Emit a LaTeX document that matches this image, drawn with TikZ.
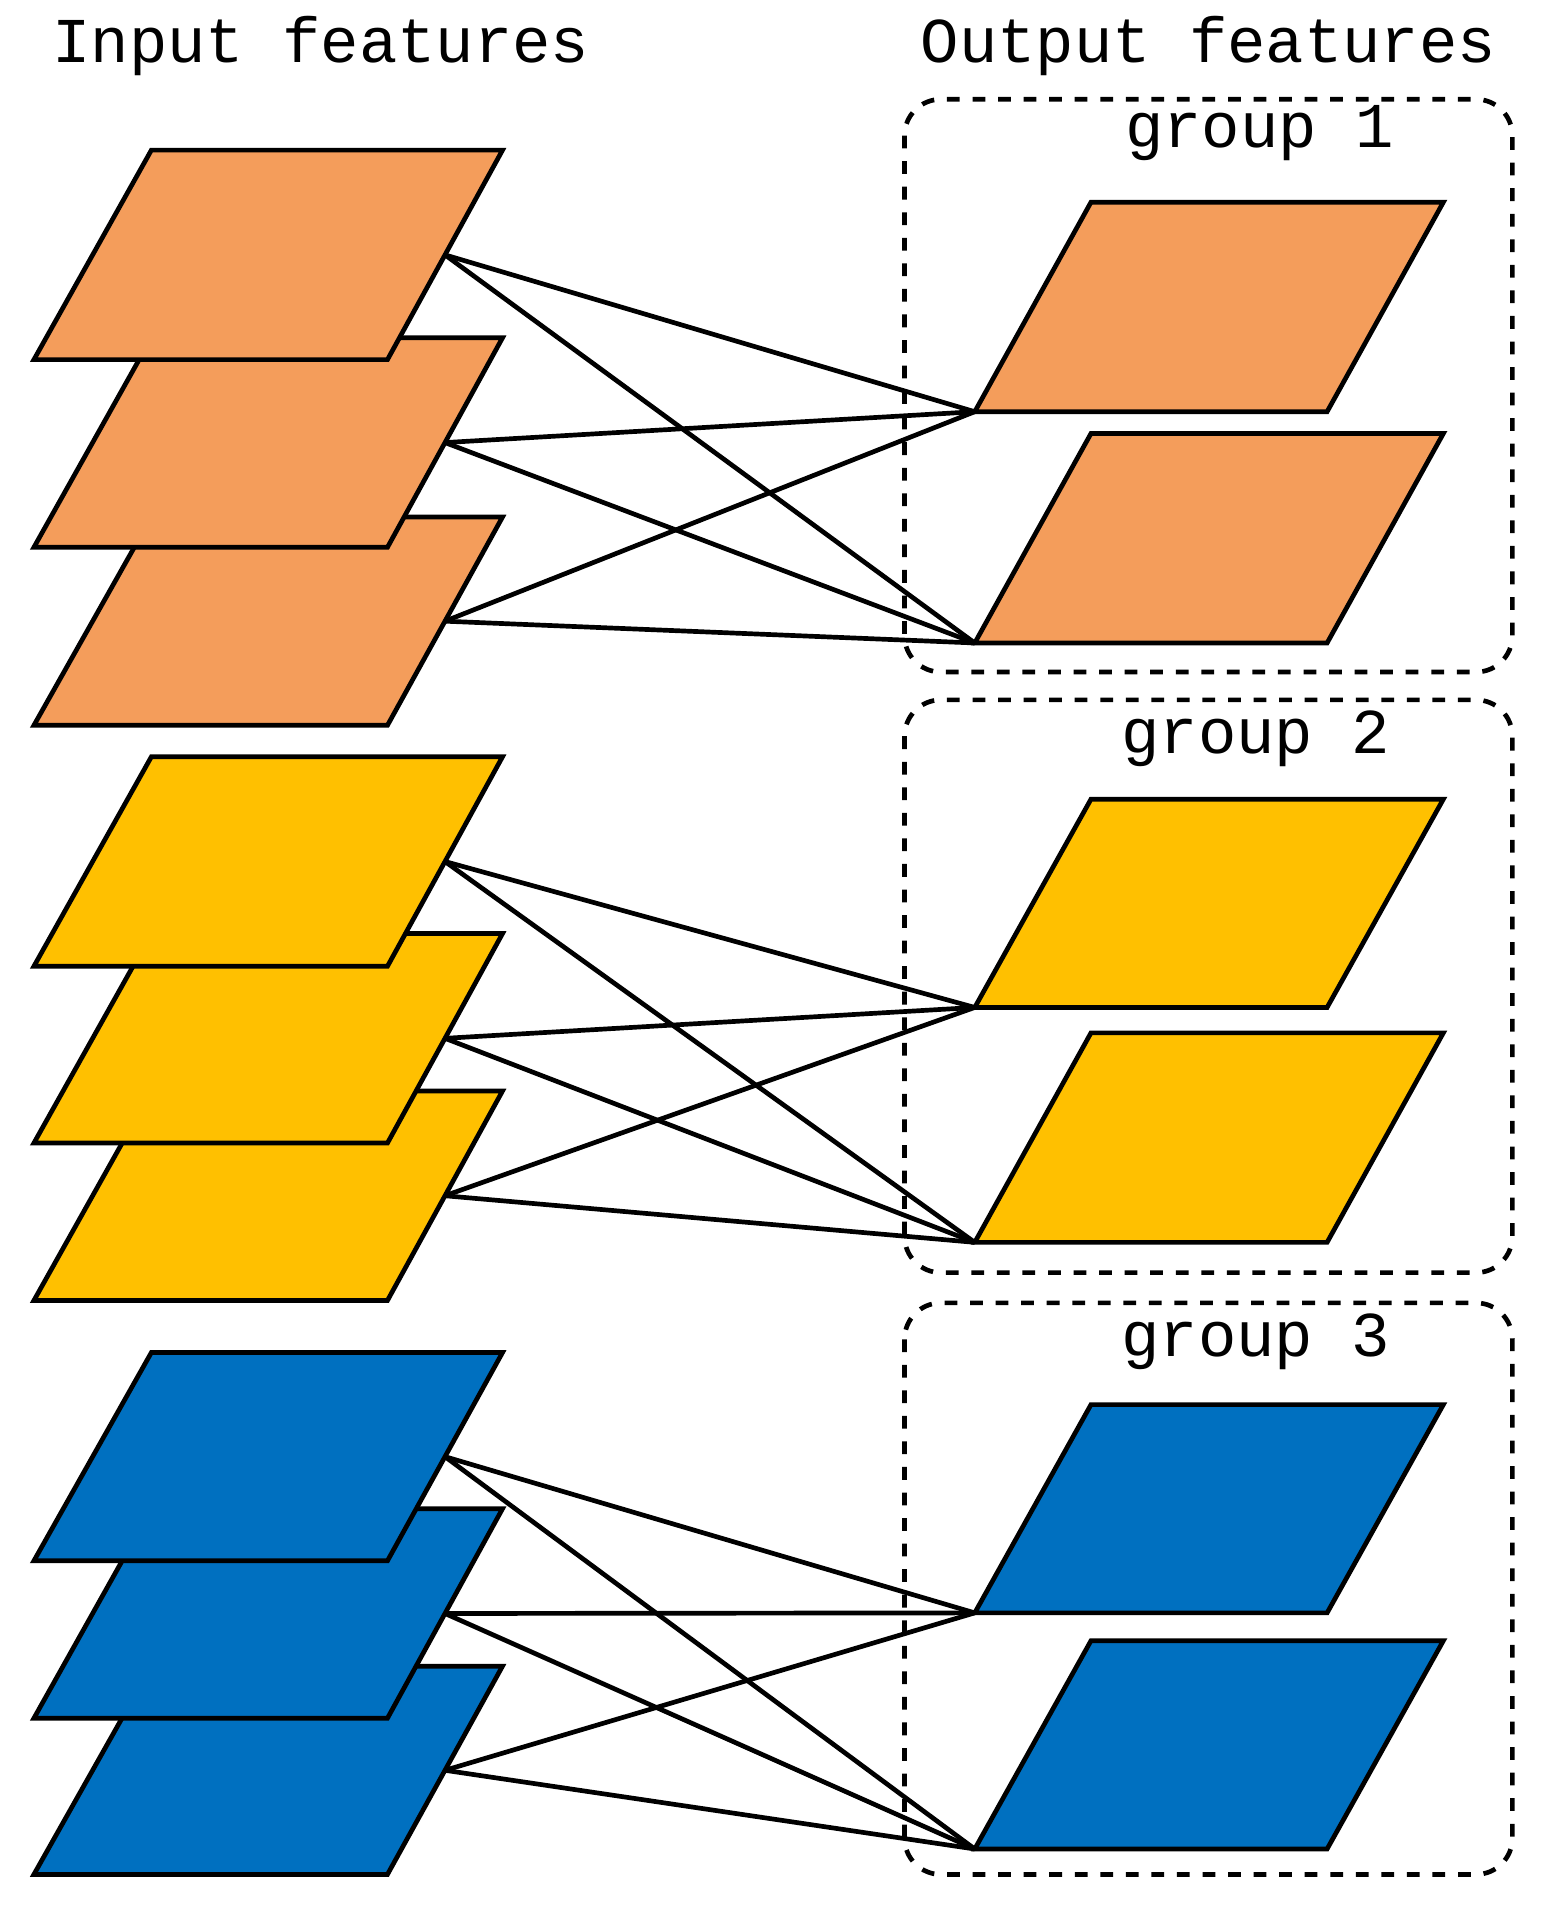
\documentclass[tikz,border=0pt]{standalone}
\usepackage{fontspec}
\setmonofont{Liberation Mono}
\definecolor{corg}{RGB}{244,157,91}
\definecolor{cyel}{RGB}{255,192,0}
\definecolor{cblu}{RGB}{0,112,192}
\begin{document}
\begin{tikzpicture}[x=0.01cm,y=-0.01cm,
  layer/.style={draw=black,line width=1.1pt,line join=miter},
  conn/.style={draw=black,line width=1.1pt},
  grp/.style={draw=black,dashed,line width=1.1pt,rounded corners=0.3cm},
  lbl/.style={font=\ttfamily\fontsize{15}{18}\selectfont,inner sep=0pt}]
\useasboundingbox (0,0) rectangle (1280,1584);
% dashed groups
\draw[grp] (747,82) rectangle (1249,555);
\draw[grp] (747,578) rectangle (1249,1051);
\draw[grp] (747,1076) rectangle (1249,1548);
\node[lbl] (tin) at (265,38) {Input features};
\node[lbl] (tout) at (998,38) {Output features};
\node[lbl] (g1) at (1040,110) {group 1};
\node[lbl] (g2) at (1037,610) {group 2};
\node[lbl] (g3) at (1037,1108) {group 3};
% macro-free layers: input (top y, bottom y), drawn bottom-first
\foreach \c/\t/\b/\n in {corg/427/599/o3,corg/279/452/o2,corg/124/297/o1,
  cyel/901/1074/y3,cyel/771/944/y2,cyel/625/798/y1,
  cblu/1376/1548/b3,cblu/1246/1419/b2,cblu/1117/1289/b1}{
  \filldraw[layer,fill=\c] (125,\t) -- (415,\t) -- (320,\b) -- (28,\b) -- cycle;
  \coordinate (\n) at (367.5,{(\t+\b)/2});
}
\foreach \c/\t/\b/\n in {corg/167/340/p1,corg/358/531/p2,
  cyel/660/832/q1,cyel/853/1026/q2,cblu/1160/1332/r1,cblu/1355/1527/r2}{
  \filldraw[layer,fill=\c] (901,\t) -- (1192,\t) -- (1096,\b) -- (805,\b) -- cycle;
  \coordinate (\n) at (805,\b);
}
\foreach \i/\o in {o/p,y/q,b/r}{
  \foreach \k in {1,2,3}{
    \draw[conn] (\i\k) -- (\o1);
    \draw[conn] (\i\k) -- (\o2);
  }
}
\end{tikzpicture}
\end{document}
